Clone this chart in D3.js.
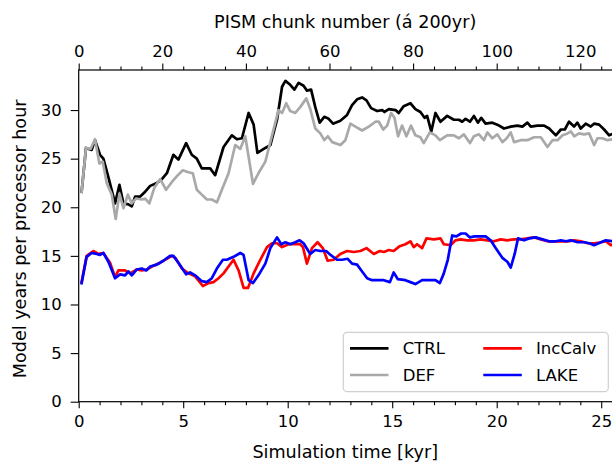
<!DOCTYPE html>
<html><head><meta charset="utf-8">
<script src="https://cdn.jsdelivr.net/npm/d3@7"></script>
<style>
html,body{margin:0;padding:0;background:#fff;}
svg{display:block;font-family:"DejaVu Sans",sans-serif;}
</style></head>
<body>
<svg id="c" width="612" height="462"></svg>
<script>
// ---- data (time in kyr, value in model years per processor hour) ----
const ctrlT = [0.14,0.35,0.62,0.78,1.02,1.18,1.42,1.74,1.95,2.14,2.38,2.54,2.70,2.94,3.18,3.42,3.74,3.98,4.22,4.53,4.77,5.14,5.41,5.65,5.89,6.29,6.53,6.93,7.33,7.57,7.81,8.13,8.37,8.55,8.93,9.17,9.49,9.73,9.89,10.12,10.32,10.52,10.76,10.92,11.12,11.32,11.53,11.75,11.96,12.17,12.52,12.84,13.08,13.32,13.56,13.77,13.99,14.28,14.52,14.63,14.84,15.16,15.31,15.55,15.87,16.11,16.35,16.55,16.67,16.87,17.07,17.31,17.63,17.95,18.19,18.35,18.51,18.72,18.91,19.10,19.26,19.47,19.79,20.03,20.35,20.67,20.99,21.23,21.47,21.63,21.95,22.27,22.51,22.83,23.07,23.26,23.46,23.70,23.86,24.02,24.26,24.50,24.66,24.90,25.14,25.38,25.60];
const ctrlV = [21.6,26.1,25.9,26.9,25.4,25.0,23.1,20.4,22.3,20.4,20.3,20.1,21.1,21.1,21.6,22.2,22.5,22.9,23.5,25.4,24.9,26.6,25.4,25.0,24.0,24.0,23.3,26.2,27.4,27.0,27.1,29.7,28.5,25.6,26.1,26.4,29.0,32.4,33.0,32.6,32.1,32.8,32.5,32.0,32.1,30.3,28.7,29.3,29.1,28.6,28.9,29.5,30.5,31.1,31.3,31.0,30.2,29.9,30.0,29.8,30.1,30.0,29.7,30.4,30.7,30.1,29.8,29.2,29.4,27.8,29.7,28.8,29.4,29.0,29.0,28.8,29.1,28.8,29.4,28.7,29.2,28.6,28.7,28.5,28.1,28.3,28.4,28.3,28.7,28.3,28.4,28.4,28.1,27.4,28.0,28.0,28.8,28.3,28.7,28.1,28.6,28.3,28.6,28.5,28.0,27.4,27.6];

const defT = [0.14,0.35,0.57,0.78,0.99,1.15,1.34,1.58,1.77,1.95,2.14,2.35,2.54,2.74,3.02,3.18,3.38,3.62,3.90,4.18,4.46,4.70,4.98,5.25,5.46,5.65,5.89,6.13,6.37,6.61,6.85,7.17,7.49,7.73,7.97,8.34,8.60,8.93,9.25,9.56,9.73,9.93,10.12,10.36,10.60,10.89,11.08,11.32,11.56,11.75,11.92,12.13,12.52,12.76,13.00,13.24,13.56,13.88,14.20,14.36,14.57,14.76,14.95,15.11,15.28,15.47,15.68,15.90,16.11,16.35,16.51,16.80,17.07,17.28,17.63,17.95,18.19,18.43,18.72,18.91,19.15,19.39,19.55,19.79,20.03,20.27,20.48,20.67,20.83,21.15,21.47,21.79,22.11,22.43,22.67,22.91,23.15,23.39,23.55,23.71,23.94,24.18,24.42,24.66,24.82,25.06,25.30,25.54];
const defV = [21.6,26.1,26.0,27.0,24.5,24.7,22.5,21.3,18.8,21.4,19.9,21.3,20.4,20.9,20.8,20.9,20.4,22.0,22.9,21.8,22.6,23.2,23.8,23.6,23.5,21.8,21.3,20.8,20.8,20.5,21.8,23.5,26.4,26.0,27.3,22.4,23.5,24.7,27.4,30.0,29.7,30.7,29.9,29.7,30.3,31.2,30.1,28.1,27.6,26.9,27.3,26.7,26.4,26.9,28.6,28.3,27.9,28.3,28.8,28.8,28.0,28.4,29.7,29.2,27.3,28.4,27.3,28.4,27.4,27.2,26.6,27.7,27.4,26.9,27.4,27.4,27.1,27.5,26.6,27.3,27.5,26.9,27.7,27.1,27.5,26.7,27.1,27.7,26.7,26.9,26.9,27.2,27.2,26.2,26.9,26.9,27.4,27.6,27.8,27.3,27.6,27.5,27.6,26.4,27.1,27.1,26.9,27.0];

const calvT = [0.14,0.38,0.70,0.94,1.18,1.50,1.74,1.90,2.22,2.46,2.78,3.02,3.26,3.50,3.90,4.46,4.62,4.94,5.25,5.57,5.94,6.21,6.45,6.69,6.93,7.17,7.41,7.65,7.89,8.10,8.37,8.69,9.01,9.25,9.49,9.73,10.04,10.36,10.60,10.73,10.92,11.16,11.43,11.68,11.91,12.20,12.52,12.84,13.16,13.48,13.77,14.12,14.41,14.60,14.84,15.07,15.36,15.63,15.87,16.03,16.19,16.43,16.64,16.99,17.31,17.47,17.79,18.03,18.27,18.59,18.91,19.23,19.55,19.87,20.19,20.51,20.83,21.15,21.47,21.79,22.11,22.43,22.75,23.07,23.39,23.71,24.03,24.35,24.67,24.99,25.22,25.46,25.60];
const calvV = [12.3,15.0,15.5,15.2,15.3,14.3,12.8,13.5,13.5,13.2,13.6,13.5,13.6,13.9,14.3,15.0,14.8,13.7,13.2,12.9,11.9,12.2,12.3,12.7,13.2,13.9,14.6,13.5,11.7,11.7,13.2,14.6,15.9,16.3,16.3,15.9,16.2,16.2,16.2,15.9,14.2,15.8,16.4,15.8,14.5,14.6,15.2,15.5,15.4,15.5,15.8,15.2,15.5,15.4,15.6,15.5,16.0,16.2,16.5,15.9,16.2,15.8,16.8,16.7,16.8,16.2,16.1,16.6,16.7,16.6,16.6,16.7,16.6,16.5,16.7,16.6,16.7,16.7,16.8,16.9,16.7,16.5,16.5,16.5,16.5,16.6,16.5,16.3,16.3,16.4,16.5,16.1,16.2];

const lakeT = [0.14,0.38,0.62,0.86,1.02,1.18,1.42,1.74,1.98,2.22,2.38,2.54,2.78,3.02,3.23,3.42,3.74,4.05,4.37,4.53,4.77,5.14,5.33,5.57,5.89,6.13,6.37,6.61,6.90,7.09,7.41,7.73,7.89,8.13,8.34,8.60,8.93,9.17,9.49,9.69,9.89,10.12,10.36,10.57,10.76,11.08,11.32,11.56,11.84,12.05,12.36,12.60,12.87,13.08,13.32,13.56,13.80,14.04,14.28,14.60,14.89,15.07,15.27,15.63,15.87,16.11,16.43,16.75,17.07,17.28,17.47,17.66,17.87,18.07,18.30,18.51,18.72,18.94,19.23,19.47,19.71,19.95,20.27,20.51,20.67,20.86,21.02,21.31,21.55,21.87,22.19,22.51,22.83,23.07,23.31,23.55,23.87,24.19,24.43,24.66,24.99,25.22,25.54];
const lakeV = [12.2,14.9,15.3,15.2,15.1,15.3,14.4,12.7,13.1,13.0,13.4,13.0,13.6,13.7,13.5,13.9,14.1,14.5,15.0,15.0,14.3,13.1,13.3,13.0,12.4,12.3,12.7,13.7,14.6,14.6,14.9,15.3,15.1,12.5,12.2,13.0,14.2,15.8,16.9,16.2,16.4,16.2,16.4,16.6,16.3,15.2,15.6,15.5,15.5,15.1,14.6,14.6,14.7,14.2,14.1,13.4,12.7,12.5,12.5,12.5,12.3,13.3,12.6,12.5,12.3,12.1,12.5,12.5,12.5,12.2,13.2,14.6,17.1,17.0,17.3,17.3,16.9,17.0,17.0,17.0,16.6,15.8,14.8,14.4,13.8,15.2,16.8,16.6,16.8,16.9,16.7,16.5,16.5,16.6,16.5,16.6,16.4,16.4,16.3,16.1,16.4,16.6,16.5];

const seriesNames = ["CTRL","DEF","IncCalv","LAKE"];
const seriesColors = ["#000000","#a9a9a9","#ff0000","#0000ff"];
const bottomTicks = [0,5,10,15,20,25];
const topTicks = [0,20,40,60,80,100,120];
const yTicks = [0,5,10,15,20,25,30];
const yearsPerChunk = 0.2; // kyr per PISM chunk

// ---- layout ----
const svg = d3.select("#c");
const L = 78.7, R = 78.7 + 25.6*20.9, T = 70, B = 401.7;
const x = d3.scaleLinear().domain([0, 25.6]).range([L, R]);
const xTop = d3.scaleLinear().domain([0, 25.6/yearsPerChunk]).range([L, R]);
const y = d3.scaleLinear().domain([0, 34.12]).range([B, T]);
const FS = 16.5, FL = 17.6;

// series
const all = [[ctrlT,ctrlV],[defT,defV],[calvT,calvV],[lakeT,lakeV]];
const line = d3.line().x(d=>x(d[0])).y(d=>y(d[1]));
svg.append("clipPath").attr("id","clp").append("rect")
  .attr("x",L).attr("y",T).attr("width",R-L).attr("height",B-T);
const g = svg.append("g").attr("clip-path","url(#clp)");
all.forEach((s,i)=>{
  const pts = s[0].map((t,j)=>[t, s[1][j]]);
  g.append("path").attr("d", line(pts)).attr("fill","none")
    .attr("stroke", seriesColors[i]).attr("stroke-width", 2.7)
    .attr("stroke-linejoin","round").attr("stroke-linecap","square");
});

// axes
function styleAxis(sel){
  sel.select(".domain").remove();
  sel.selectAll("text").attr("font-size",FS).attr("font-family","DejaVu Sans").attr("fill","#000");
  sel.selectAll("line").attr("stroke","#000").attr("stroke-width",1.1);
}
const axB = svg.append("g").attr("transform",`translate(0,${B})`)
  .call(d3.axisBottom(x).tickValues(bottomTicks).tickFormat(d3.format("d")).tickSize(6.5).tickPadding(7));
styleAxis(axB);
const axBm = svg.append("g").attr("transform",`translate(0,${B})`)
  .call(d3.axisBottom(x).tickValues(d3.range(0,26,1).filter(v=>v%5)).tickFormat("").tickSize(3.5));
styleAxis(axBm);

const axT = svg.append("g").attr("transform",`translate(0,${T})`)
  .call(d3.axisTop(xTop).tickValues(topTicks).tickFormat(d3.format("d")).tickSize(6.5).tickPadding(6.5));
styleAxis(axT);
const axTm = svg.append("g").attr("transform",`translate(0,${T})`)
  .call(d3.axisTop(xTop).tickValues(d3.range(0,128,5).filter(v=>v%20)).tickFormat("").tickSize(3.5));
styleAxis(axTm);

const axL = svg.append("g").attr("transform",`translate(${L},0)`)
  .call(d3.axisLeft(y).tickValues(yTicks).tickFormat(d3.format("d")).tickSize(8).tickPadding(9));
styleAxis(axL);

// spines
svg.append("rect").attr("x",L).attr("y",T).attr("width",R-L).attr("height",B-T)
  .attr("fill","none").attr("stroke","#000").attr("stroke-width",1.2);

// labels
svg.append("text").attr("x",(L+R)/2 - 1).attr("y",458).attr("text-anchor","middle")
  .attr("font-size",FL).text("Simulation time [kyr]");
svg.append("text").attr("x",(L+R)/2 - 1).attr("y",27.5).attr("text-anchor","middle")
  .attr("font-size",FL).text("PISM chunk number (á 200yr)");
svg.append("text").attr("transform",`translate(26,${(T+B)/2 + 3}) rotate(-90)`).attr("text-anchor","middle")
  .attr("font-size",FL).text("Model years per processor hour");

// legend
const lg = svg.append("g");
lg.append("rect").attr("x",343.3).attr("y",332.3).attr("width",265).attr("height",59.4)
  .attr("rx",4).attr("fill","#fff").attr("fill-opacity",0.8).attr("stroke","#d0d0d0").attr("stroke-width",1.2);
const legPos = [[350,348.3],[350,375],[483.3,348.3],[483.3,375]];
seriesNames.forEach((n,i)=>{
  const [lx,ly] = legPos[i];
  lg.append("line").attr("x1",lx).attr("x2",lx+38.5).attr("y1",ly).attr("y2",ly)
    .attr("stroke",seriesColors[i]).attr("stroke-width",2.7);
  lg.append("text").attr("x",lx+52.7).attr("y",ly+6).attr("font-size",FS).text(n);
});
</script>
</body></html>
